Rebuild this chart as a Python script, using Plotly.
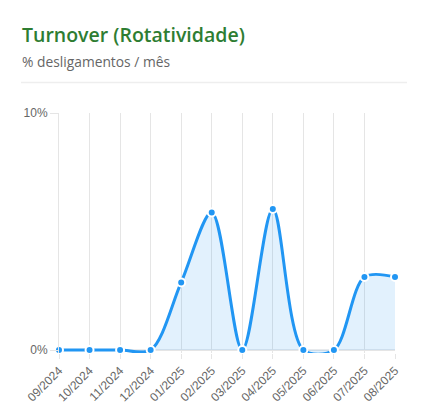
import plotly.graph_objs as go

# Monthly turnover (% of separations per month)
months = ["09/2024", "10/2024", "11/2024", "12/2024", "01/2025", "02/2025",
          "03/2025", "04/2025", "05/2025", "06/2025", "07/2025", "08/2025"]
turnover = [0, 0, 0, 0, 2.85, 5.8, 0, 5.95, 0, 0, 3.08, 3.08]

y_ticks = [0, 10]
y_labels = ["0%", "10%"]

BLUE = "#2196F3"
GRID = "#e5e5e5"

# the page body has an 8px margin, so the figure is drawn 8px in
OFF = 8
PX_PER_UNIT = 23.7          # 10% spans ~237px in the reference
Y_PAD = 3.0 / PX_PER_UNIT   # room below 0 so the line isn't clipped

W, H = 425 - OFF, 420 - OFF
ML, MR, MT = 59 - OFF, 30, 113 - OFF
MB = 70 - Y_PAD * PX_PER_UNIT
PW, PH = W - ML - MR, H - MT - MB


def px_x(x):
    # window pixel -> paper coordinate
    return (x - OFF - ML) / PW


def px_y(y):
    return (H - MB - (y - OFF)) / PH


line = go.Scatter(
    x=months,
    y=turnover,
    mode='lines+markers',
    line=dict(color=BLUE, width=3, shape='spline', smoothing=0.9),
    fill='tozeroy',
    fillcolor='rgba(33, 150, 243, 0.13)',
    marker=dict(color=BLUE, size=8, line=dict(color='white', width=2)),
    cliponaxis=False,
    showlegend=False,
    hoverinfo='x+y',
)

layout = go.Layout(
    width=W,
    height=H,
    paper_bgcolor='white',
    plot_bgcolor='white',
    margin=dict(l=ML, r=MR, t=MT, b=MB),
    font=dict(family='Liberation Sans, Arial, sans-serif', size=12, color='#666'),
    xaxis=dict(
        type='category',
        range=[0, len(months) - 1],
        showgrid=True, gridcolor=GRID, gridwidth=1,
        showline=False, zeroline=False,
        ticks='outside', ticklen=5, tickcolor=GRID,
        tickangle=-45,
        tickfont=dict(size=12, color='#666'),
        automargin=False,
    ),
    yaxis=dict(
        range=[-Y_PAD, 10],
        tickvals=y_ticks,
        ticktext=y_labels,
        showgrid=True, gridcolor=GRID, gridwidth=1,
        showline=True, linecolor=GRID, linewidth=1,
        zeroline=False,
        ticks='outside', ticklen=8, tickcolor=GRID,
        tickfont=dict(size=12, color='#666'),
        automargin=False,
    ),
    shapes=[
        # header separator
        dict(type='line', xref='paper', yref='paper',
             x0=px_x(21), x1=px_x(407), y0=px_y(82.5), y1=px_y(82.5),
             line=dict(color='#eeeeee', width=1.5)),
        # baseline at 0%
        dict(type='line', xref='paper', yref='y',
             x0=0, x1=1, y0=0, y1=0,
             line=dict(color='#cfd4da', width=1), layer='below'),
    ],
    annotations=[
        dict(text='Turnover (Rotatividade)', xref='paper', yref='paper',
             x=px_x(20), y=px_y(34), xanchor='left', yanchor='middle',
             showarrow=False,
             font=dict(family='Open Sans, sans-serif', size=19.5, weight=600,
                       color='#2e7d32')),
        dict(text='% desligamentos / mês', xref='paper', yref='paper',
             x=px_x(20), y=px_y(61), xanchor='left', yanchor='middle',
             showarrow=False,
             font=dict(family='Open Sans, sans-serif', size=13.8, color='#666')),
    ],
    hovermode='closest',
)

fig = go.Figure(data=[line], layout=layout)
fig.write_html("out.html")
